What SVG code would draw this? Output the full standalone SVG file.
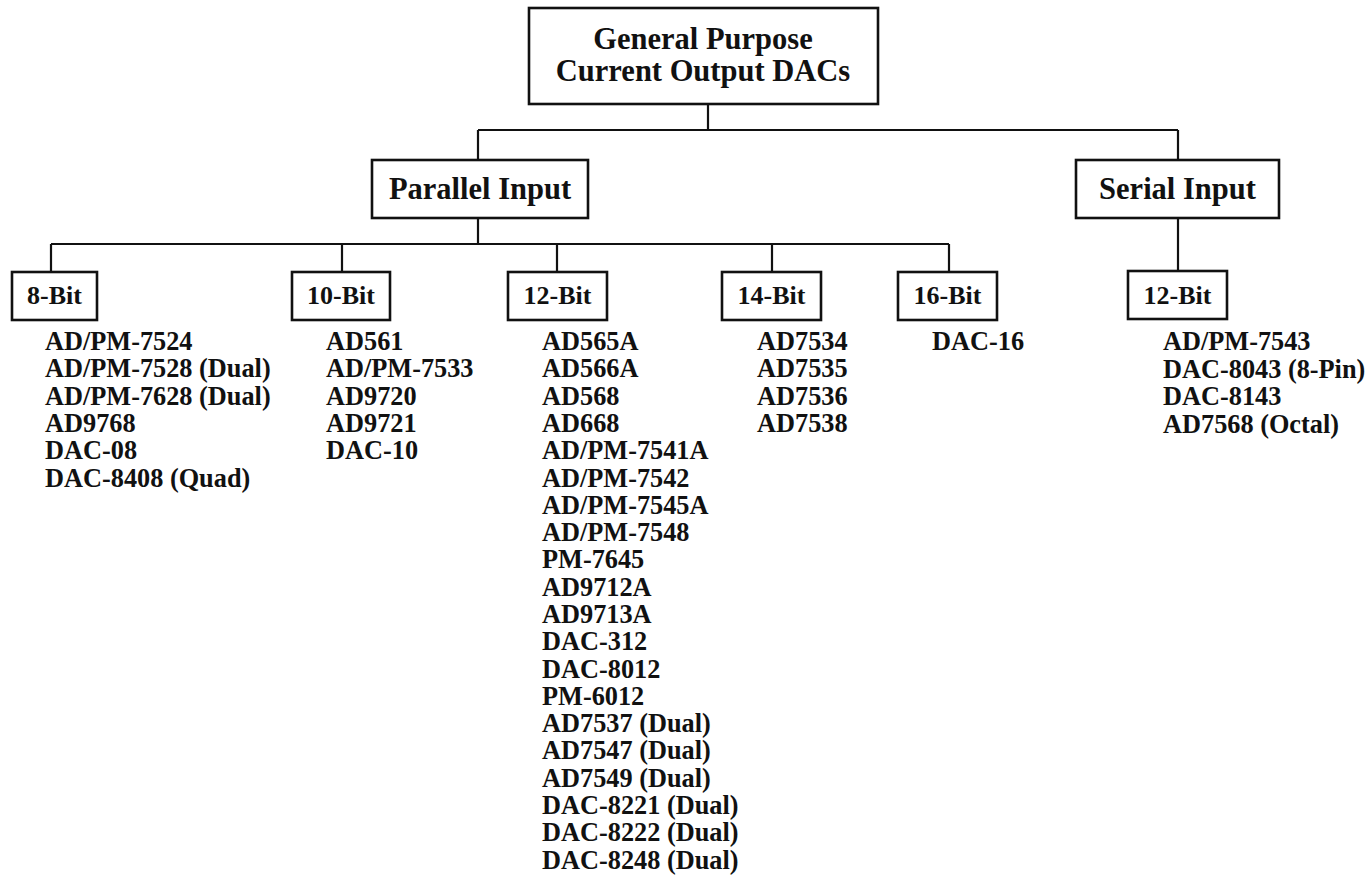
<svg xmlns="http://www.w3.org/2000/svg" width="1370" height="879" viewBox="0 0 1370 879">
<style>
.box{fill:#fff;stroke:#111;stroke-width:2.6}
.ln{fill:none;stroke:#111;stroke-width:2.2}
.h{font-family:"Liberation Serif","Times New Roman",serif;font-weight:bold;font-size:30.5px;fill:#111;text-anchor:middle}
.b{font-family:"Liberation Serif","Times New Roman",serif;font-weight:bold;font-size:26px;fill:#111;text-anchor:middle}
.l{font-family:"Liberation Serif","Times New Roman",serif;font-weight:bold;font-size:26.3px;fill:#111}
</style>
<rect width="1370" height="879" fill="#fff"/>
<g id="connectors">
<path class="ln" d="M708 104V130M478 130H1178M478 130V160M1178 130V160"/>
<path class="ln" d="M478 218V244M51 244H949M51 244V272M342 244V272M557 244V272M772 244V272M949 244V272"/>
<path class="ln" d="M1178 218V271"/>
</g>
<g id="root">
<rect class="box" x="529" y="8" width="349" height="96"/>
<text class="h" x="703" y="49">General Purpose</text>
<text class="h" x="703" y="81">Current Output DACs</text>
</g>
<g id="parallel">
<rect class="box" x="372" y="160" width="216" height="58"/>
<text class="h" x="480" y="199">Parallel Input</text>
</g>
<g id="serial">
<rect class="box" x="1076" y="160" width="203" height="58"/>
<text class="h" x="1177.5" y="199">Serial Input</text>
</g>
<g id="p8">
<rect class="box" x="12" y="272" width="85" height="48"/>
<text class="b" x="54.5" y="304">8-Bit</text>
<text class="l" x="45" y="350"><tspan x="45">AD/PM-7524</tspan><tspan x="45" dy="27.3">AD/PM-7528 (Dual)</tspan><tspan x="45" dy="27.3">AD/PM-7628 (Dual)</tspan><tspan x="45" dy="27.3">AD9768</tspan><tspan x="45" dy="27.3">DAC-08</tspan><tspan x="45" dy="27.3">DAC-8408 (Quad)</tspan></text>
</g>
<g id="p10">
<rect class="box" x="292" y="272" width="98" height="48"/>
<text class="b" x="341" y="304">10-Bit</text>
<text class="l" x="326" y="350"><tspan x="326">AD561</tspan><tspan x="326" dy="27.3">AD/PM-7533</tspan><tspan x="326" dy="27.3">AD9720</tspan><tspan x="326" dy="27.3">AD9721</tspan><tspan x="326" dy="27.3">DAC-10</tspan></text>
</g>
<g id="p12">
<rect class="box" x="508" y="272" width="99" height="48"/>
<text class="b" x="557.5" y="304">12-Bit</text>
<text class="l" x="542" y="350"><tspan x="542">AD565A</tspan><tspan x="542" dy="27.3">AD566A</tspan><tspan x="542" dy="27.3">AD568</tspan><tspan x="542" dy="27.3">AD668</tspan><tspan x="542" dy="27.3">AD/PM-7541A</tspan><tspan x="542" dy="27.3">AD/PM-7542</tspan><tspan x="542" dy="27.3">AD/PM-7545A</tspan><tspan x="542" dy="27.3">AD/PM-7548</tspan><tspan x="542" dy="27.3">PM-7645</tspan><tspan x="542" dy="27.3">AD9712A</tspan><tspan x="542" dy="27.3">AD9713A</tspan><tspan x="542" dy="27.3">DAC-312</tspan><tspan x="542" dy="27.3">DAC-8012</tspan><tspan x="542" dy="27.3">PM-6012</tspan><tspan x="542" dy="27.3">AD7537 (Dual)</tspan><tspan x="542" dy="27.3">AD7547 (Dual)</tspan><tspan x="542" dy="27.3">AD7549 (Dual)</tspan><tspan x="542" dy="27.3">DAC-8221 (Dual)</tspan><tspan x="542" dy="27.3">DAC-8222 (Dual)</tspan><tspan x="542" dy="27.3">DAC-8248 (Dual)</tspan></text>
</g>
<g id="p14">
<rect class="box" x="722" y="272" width="99" height="48"/>
<text class="b" x="771.5" y="304">14-Bit</text>
<text class="l" x="757" y="350"><tspan x="757">AD7534</tspan><tspan x="757" dy="27.3">AD7535</tspan><tspan x="757" dy="27.3">AD7536</tspan><tspan x="757" dy="27.3">AD7538</tspan></text>
</g>
<g id="p16">
<rect class="box" x="898" y="272" width="99" height="48"/>
<text class="b" x="947.5" y="304">16-Bit</text>
<text class="l" x="932" y="350">DAC-16</text>
</g>
<g id="s12">
<rect class="box" x="1128" y="271" width="99" height="48"/>
<text class="b" x="1177.5" y="304">12-Bit</text>
<text class="l" x="1163" y="350"><tspan x="1163">AD/PM-7543</tspan><tspan x="1163" dy="27.6">DAC-8043 (8-Pin)</tspan><tspan x="1163" dy="27.6">DAC-8143</tspan><tspan x="1163" dy="27.6">AD7568 (Octal)</tspan></text>
</g>
</svg>
